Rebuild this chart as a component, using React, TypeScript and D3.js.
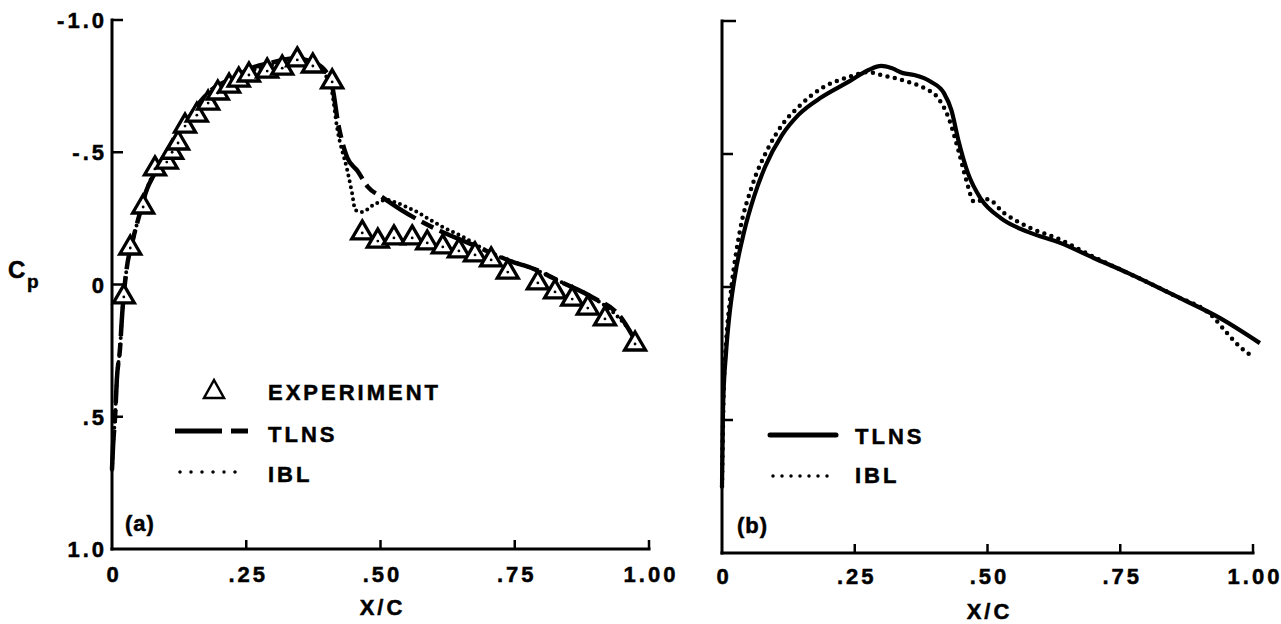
import React from "react";
import * as d3 from "d3";

// ---------- data (x/c, Cp) ----------
const expX = [0.022, 0.034, 0.058, 0.080, 0.102, 0.112, 0.123, 0.136, 0.158, 0.179, 0.197, 0.218, 0.236, 0.255, 0.289, 0.317, 0.345, 0.374, 0.410,
  0.466, 0.495, 0.525, 0.559, 0.587, 0.616, 0.646, 0.676, 0.706, 0.737, 0.793, 0.825, 0.857, 0.886, 0.918, 0.974];
const expCp = [0.047, -0.138, -0.293, -0.437, -0.463, -0.50, -0.535, -0.599, -0.64, -0.686, -0.724, -0.750, -0.773, -0.792, -0.807, -0.818, -0.849, -0.826, -0.766,
  -0.195, -0.164, -0.176, -0.176, -0.157, -0.142, -0.127, -0.112, -0.093, -0.047, -0.006, 0.028, 0.055, 0.089, 0.13, 0.225];

const tlnsAX = [0, 0.002, 0.006, 0.009, 0.015, 0.019, 0.027, 0.039, 0.052, 0.065, 0.077, 0.095, 0.114, 0.140, 0.164, 0.188, 0.225, 0.262, 0.30, 0.34, 0.375, 0.40, 0.411, 0.421, 0.428, 0.438, 0.457, 0.476, 0.503, 0.536, 0.598, 0.672, 0.747, 0.784, 0.84, 0.896, 0.946, 0.983];
const tlnsACp = [0.70, 0.61, 0.49, 0.36, 0.24, 0.11, -0.055, -0.17, -0.27, -0.36, -0.41, -0.47, -0.535, -0.62, -0.69, -0.74, -0.78, -0.82, -0.84, -0.855, -0.84, -0.80, -0.74, -0.61, -0.545, -0.48, -0.43, -0.37, -0.33, -0.285, -0.215, -0.15, -0.085, -0.06, -0.006, 0.05, 0.12, 0.245];

const iblAX = [0, 0.002, 0.006, 0.009, 0.015, 0.019, 0.027, 0.039, 0.052, 0.065, 0.077, 0.095, 0.114, 0.140, 0.164, 0.188, 0.225, 0.262, 0.30, 0.34, 0.375, 0.398, 0.410, 0.419, 0.438, 0.447, 0.453, 0.466, 0.486, 0.512, 0.531, 0.549, 0.568, 0.587, 0.616, 0.654, 0.685, 0.723, 0.784, 0.84, 0.896, 0.946, 0.985];
const iblACp = [0.70, 0.61, 0.49, 0.36, 0.24, 0.11, -0.055, -0.17, -0.27, -0.36, -0.42, -0.48, -0.54, -0.62, -0.685, -0.735, -0.775, -0.81, -0.83, -0.845, -0.83, -0.79, -0.724, -0.595, -0.433, -0.346, -0.282, -0.274, -0.30, -0.32, -0.308, -0.293, -0.274, -0.251, -0.217, -0.18, -0.142, -0.104, -0.06, -0.006, 0.05, 0.13, 0.23];

const tlnsBX = [0, 0.002, 0.0075, 0.013, 0.024, 0.041, 0.060, 0.081, 0.113, 0.144, 0.188, 0.238, 0.276, 0.300, 0.319, 0.341, 0.362, 0.394, 0.418, 0.432, 0.445, 0.463, 0.488, 0.525, 0.576, 0.638, 0.700, 0.764, 0.850, 0.938, 1.013];
const tlnsBCp = [0.75, 0.45, 0.25, 0.124, -0.038, -0.203, -0.338, -0.451, -0.571, -0.647, -0.714, -0.771, -0.816, -0.831, -0.823, -0.804, -0.797, -0.771, -0.729, -0.665, -0.553, -0.429, -0.33, -0.259, -0.207, -0.165, -0.109, -0.053, 0.030, 0.117, 0.211];

const iblBX = [0, 0.003, 0.008, 0.015, 0.034, 0.056, 0.088, 0.113, 0.144, 0.188, 0.238, 0.276, 0.300, 0.351, 0.381, 0.407, 0.426, 0.445, 0.460, 0.475, 0.50, 0.531, 0.576, 0.638, 0.700, 0.764, 0.850, 0.925, 0.951, 0.976, 0.998];
const iblBCp = [0.75, 0.40, 0.2, 0.05, -0.214, -0.376, -0.526, -0.609, -0.677, -0.748, -0.789, -0.808, -0.797, -0.771, -0.748, -0.71, -0.639, -0.515, -0.402, -0.32, -0.33, -0.278, -0.226, -0.177, -0.113, -0.053, 0.030, 0.113, 0.173, 0.226, 0.26];

const xTicks = [0, 0.25, 0.5, 0.75, 1.0];
const xTickLabels = ["0", ".25", ".50", ".75", "1.00"];
const yTicks = [-1.0, -0.5, 0, 0.5, 1.0];
const yTickLabels = ["-1.0", "-.5", "0", ".5", "1.0"];

const FONT = "'Liberation Sans', Arial, Helvetica, sans-serif";
const txt = { fontFamily: FONT, fontWeight: 700, fontSize: 22, letterSpacing: 3, fill: "#000", stroke: "#000", strokeWidth: 0.5 } as const;

function zip(xs: number[], ys: number[]): [number, number][] {
  return xs.map((x, i) => [x, ys[i]]);
}

export default function App() {
  // panel (a)
  const xa = d3.scaleLinear().domain([0, 1]).range([112, 649]);
  const ya = d3.scaleLinear().domain([-1, 1]).range([20, 549]);
  // panel (b)
  const xb = d3.scaleLinear().domain([0, 1]).range([722, 1253]);
  const yb = d3.scaleLinear().domain([-1, 1]).range([21, 553]);

  const lineA = d3.line<[number, number]>().x(d => xa(d[0])).y(d => ya(d[1])).curve(d3.curveMonotoneX);
  const lineB = d3.line<[number, number]>().x(d => xb(d[0])).y(d => yb(d[1])).curve(d3.curveMonotoneX);

  const tri = (cx: number, cy: number, w: number, h: number) => {
    const top = cy - (2 * h) / 3;
    const bot = cy + h / 3;
    return `M${cx},${top}L${cx + w / 2},${bot}L${cx - w / 2},${bot}Z`;
  };

  const axisStroke = 3;

  return (
    <svg width={1281} height={624} style={{ position: "absolute", left: 0, top: 0, background: "#fff" }}>
      <rect x={0} y={0} width={1281} height={624} fill="#fff" />

      {/* ----- Panel (a) axes ----- */}
      <line x1={xa(0)} y1={ya(-1)} x2={xa(0)} y2={ya(1)} stroke="#000" strokeWidth={axisStroke} strokeLinecap="square" />
      <line x1={xa(0)} y1={ya(1)} x2={xa(1)} y2={ya(1)} stroke="#000" strokeWidth={axisStroke} strokeLinecap="square" />
      {yTicks.map((t, i) => (
        <g key={"ya" + i}>
          {i < yTicks.length - 1 && (
            <line x1={xa(0)} y1={ya(t)} x2={xa(0) + 11} y2={ya(t)} stroke="#000" strokeWidth={2.5} />
          )}
          <text x={107} y={ya(t) + 8} textAnchor="end" style={txt}>{yTickLabels[i]}</text>
        </g>
      ))}
      {xTicks.map((t, i) => (
        <g key={"xa" + i}>
          {i > 0 && <line x1={xa(t)} y1={ya(1)} x2={xa(t)} y2={ya(1) - 9} stroke="#000" strokeWidth={2.5} />}
          <text x={xa(t) + 2} y={582} textAnchor="middle" style={txt}>{xTickLabels[i]}</text>
        </g>
      ))}
      <text x={xa(0.5) + 2} y={615} textAnchor="middle" style={txt}>X/C</text>
      <text x={8} y={278} style={{ ...txt, fontSize: 24, letterSpacing: 0 }}>C</text>
      <text x={27} y={288} style={{ ...txt, fontSize: 19, letterSpacing: 0 }}>p</text>

      {/* ----- Panel (a) curves ----- */}
      <path d={lineA(zip(iblAX, iblACp)) || ""} fill="none" stroke="#000" strokeWidth={4} strokeLinecap="round" strokeDasharray="0 6" />
      <path d={lineA(zip(tlnsAX, tlnsACp)) || ""} fill="none" stroke="#000" strokeWidth={4.5} strokeDasharray="40 7 13 7" />
      {expX.map((x, i) => (
        <g key={"e" + i}>
          <path d={tri(xa(x), ya(expCp[i]), 21, 18)} fill="#fff" stroke="#000" strokeWidth={3.3} strokeLinejoin="miter" />
          <circle cx={xa(x)} cy={ya(expCp[i])} r={1.4} fill="#000" />
        </g>
      ))}

      {/* ----- Panel (a) legend ----- */}
      <path d={tri(214, 392, 20, 18)} fill="none" stroke="#000" strokeWidth={2.5} />
      <text x={268} y={400} style={txt}>EXPERIMENT</text>
      <line x1={175} y1={431} x2={222} y2={431} stroke="#000" strokeWidth={5} />
      <line x1={231} y1={431} x2={248} y2={431} stroke="#000" strokeWidth={5} />
      <text x={268} y={442} style={txt}>TLNS</text>
      <line x1={180} y1={472} x2={246} y2={472} stroke="#000" strokeWidth={3.5} strokeLinecap="round" strokeDasharray="0 11" />
      <text x={268} y={482} style={txt}>IBL</text>
      <text x={125} y={531} style={{ ...txt, letterSpacing: 1 }}>(a)</text>

      {/* ----- Panel (b) axes ----- */}
      <line x1={xb(0)} y1={yb(-1)} x2={xb(0)} y2={yb(1)} stroke="#000" strokeWidth={axisStroke} strokeLinecap="square" />
      <line x1={xb(0)} y1={yb(1)} x2={xb(1)} y2={yb(1)} stroke="#000" strokeWidth={axisStroke} strokeLinecap="square" />
      {yTicks.slice(0, 4).map((t, i) => (
        <line key={"yb" + i} x1={xb(0)} y1={yb(t)} x2={xb(0) + (i === 0 ? 14 : 11)} y2={yb(t)} stroke="#000" strokeWidth={2.5} />
      ))}
      {xTicks.map((t, i) => (
        <g key={"xb" + i}>
          {i > 0 && <line x1={xb(t)} y1={yb(1)} x2={xb(t)} y2={yb(1) - 9} stroke="#000" strokeWidth={2.5} />}
          <text x={xb(t) + 2} y={584} textAnchor="middle" style={txt}>{xTickLabels[i]}</text>
        </g>
      ))}
      <text x={xb(0.5) + 2} y={619} textAnchor="middle" style={txt}>X/C</text>

      {/* ----- Panel (b) curves ----- */}
      <path d={lineB(zip(iblBX, iblBCp)) || ""} fill="none" stroke="#000" strokeWidth={4.5} strokeLinecap="round" strokeDasharray="0 7.5" />
      <path d={lineB(zip(tlnsBX, tlnsBCp)) || ""} fill="none" stroke="#000" strokeWidth={4.2} />

      {/* ----- Panel (b) legend ----- */}
      <line x1={770} y1={435} x2={836} y2={435} stroke="#000" strokeWidth={5} strokeLinecap="round" />
      <text x={855} y={444} style={txt}>TLNS</text>
      <line x1={773} y1={476} x2={835} y2={476} stroke="#000" strokeWidth={3.5} strokeLinecap="round" strokeDasharray="0 9" />
      <text x={855} y={483} style={txt}>IBL</text>
      <text x={737} y={533} style={{ ...txt, letterSpacing: 1 }}>(b)</text>
    </svg>
  );
}
